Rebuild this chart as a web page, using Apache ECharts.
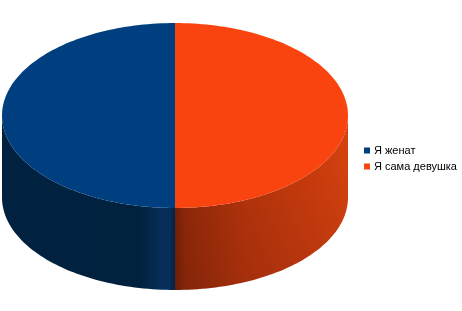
<!DOCTYPE html>
<html><head><meta charset="utf-8">
<script src="https://cdn.jsdelivr.net/npm/echarts@6/dist/echarts.min.js"></script>
<style>html,body{margin:0;padding:0;background:#fff}#c{width:462px;height:311px}</style>
</head><body><div id="c"></div>
<script>
const categories = ['Я женат', 'Я сама девушка'];
const values = [50, 50];
const topColors = ['#003f7f', '#f9440f'];

const CX = 175, CY = 115.5, RX = 173, RY = 92.5, DEPTH = 82;
const total = values.reduce((a, b) => a + b, 0);
const G = echarts.graphic;

const sideFills = [
  new G.LinearGradient(2, 0, 175, 0, [
    {offset: 0, color: '#00213f'}, {offset: 0.8, color: '#00223f'},
    {offset: 0.92, color: '#062e58'}, {offset: 0.97, color: '#072e57'}, {offset: 1, color: '#002448'}
  ], true),
  new G.LinearGradient(175, 0, 348, 0, [
    {offset: 0, color: '#7a2006'}, {offset: 0.06, color: '#962a0a'},
    {offset: 0.4, color: '#b9350c'}, {offset: 0.8, color: '#cf3d0e'}, {offset: 1, color: '#da430f'}
  ], true)
];
const shade = new G.LinearGradient(0, CY, 0, CY + RY + DEPTH, [
  {offset: 0, color: 'rgba(0,0,0,0)'}, {offset: 1, color: 'rgba(0,0,0,0.12)'}
], true);

function pt(t, dy) { return [CX + RX * Math.cos(t), CY + dy + RY * Math.sin(t)]; }

function sliceAngles(i) {
  let before = 0;
  for (let k = 0; k < i; k++) before += values[k];
  const a0 = before / total * 2 * Math.PI, a1 = (before + values[i]) / total * 2 * Math.PI;
  return [-Math.PI / 2 - a1, -Math.PI / 2 - a0];
}

function makeRender(i) {
  return function (params, api) {
    const [t0, t1] = sliceAngles(i);
    const N = 120;
    const children = [];
    let seg = [];
    const segs = [];
    for (let k = 0; k <= N; k++) {
      const t = t0 + (t1 - t0) * k / N;
      if (Math.sin(t) >= -1e-9) seg.push(t); else { if (seg.length > 1) segs.push(seg); seg = []; }
    }
    if (seg.length > 1) segs.push(seg);
    segs.forEach(sg => {
      const pts = [];
      sg.forEach(t => pts.push(pt(t, 0)));
      for (let k = sg.length - 1; k >= 0; k--) pts.push(pt(sg[k], DEPTH));
      children.push({type: 'polygon', shape: {points: pts}, style: {fill: sideFills[i]}});
      if (i === 1) children.push({type: 'polygon', z2: 1, shape: {points: pts}, style: {fill: shade}});
    });
    const tp = [[CX, CY]];
    for (let k = 0; k <= N; k++) tp.push(pt(t0 + (t1 - t0) * k / N, 0));
    children.push({type: 'polygon', z2: 10, shape: {points: tp}, style: {fill: topColors[i]}});
    return {type: 'group', children};
  };
}

const chart = echarts.init(document.getElementById('c'), null, {renderer: 'canvas'});
chart.setOption({
  animation: false,
  color: topColors,
  legend: {
    data: categories,
    orient: 'vertical', left: 359, top: 140,
    icon: 'rect', itemWidth: 6, itemHeight: 6, itemGap: 5,
    textStyle: {fontFamily: 'Liberation Sans, Arial, sans-serif', fontSize: 11, color: '#000', padding: [0, 0, 0, -1]}
  },
  series: categories.map((name, i) => ({
    type: 'custom', name, coordinateSystem: 'none',
    data: [[values[i]]], renderItem: makeRender(i),
    itemStyle: {color: topColors[i]}
  }))
});
</script></body></html>
